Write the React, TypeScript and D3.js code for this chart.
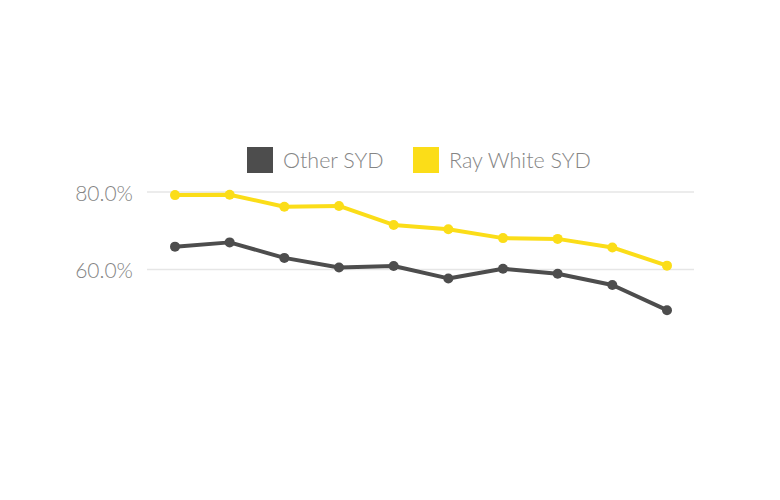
import * as d3 from "d3";

// values (percent)
const periods = ["P1", "P2", "P3", "P4", "P5", "P6", "P7", "P8", "P9", "P10"];
const otherSyd = [65.9, 67.0, 63.0, 60.5, 60.9, 57.7, 60.2, 58.9, 56.0, 49.5];
const rayWhiteSyd = [79.2, 79.3, 76.2, 76.4, 71.5, 70.4, 68.1, 67.9, 65.7, 61.0];
const yTicks = [60, 80];

const seriesNames = ["Other SYD", "Ray White SYD"];
const seriesColors = ["#4d4d4d", "#fbdd18"];

const width = 780;
const height = 500;
const font = "Lato, 'Open Sans', sans-serif";

const App = () => {
  const x = d3.scalePoint().domain(periods).range([175, 667]);
  const y = d3.scaleLinear().domain([60, 80]).range([269.5, 192]);

  const line = d3
    .line<number>()
    .x((_, i) => x(periods[i]) as number)
    .y((d) => y(d));

  const series = [otherSyd, rayWhiteSyd];

  return (
    <svg
      width={width}
      height={height}
      style={{ position: "absolute", left: 0, top: 0, background: "#fff" }}
    >
      {/* grid + y labels */}
      {yTicks.map((t) => (
        <g key={t}>
          <line x1={147} x2={694} y1={y(t)} y2={y(t)} stroke="#e6e6e6" strokeWidth={1.5} />
          <text
            x={133}
            y={y(t) + 1}
            dy="0.36em"
            textAnchor="end"
            fontFamily={font}
            fontWeight={300}
            fontSize={21}
            fill="#858585"
          >
            {d3.format(".1f")(t) + "%"}
          </text>
        </g>
      ))}

      {/* legend */}
      {seriesNames.map((name, i) => {
        const lx = i === 0 ? 247 : 413;
        return (
          <g key={name}>
            <rect x={lx} y={147} width={26} height={26} fill={seriesColors[i]} />
            <text
              x={lx + 36}
              y={160}
              dy="0.36em"
              fontFamily={font}
              fontWeight={300}
              fontSize={21.5}
              fill="#858585"
            >
              {name}
            </text>
          </g>
        );
      })}

      {/* lines */}
      {series.map((s, i) => (
        <g key={seriesNames[i]}>
          <path
            d={line(s) ?? ""}
            fill="none"
            stroke={seriesColors[i]}
            strokeWidth={4}
            strokeLinejoin="round"
          />
          {s.map((v, j) => (
            <circle key={j} cx={x(periods[j])} cy={y(v)} r={5} fill={seriesColors[i]} />
          ))}
        </g>
      ))}
    </svg>
  );
};

export default App;
